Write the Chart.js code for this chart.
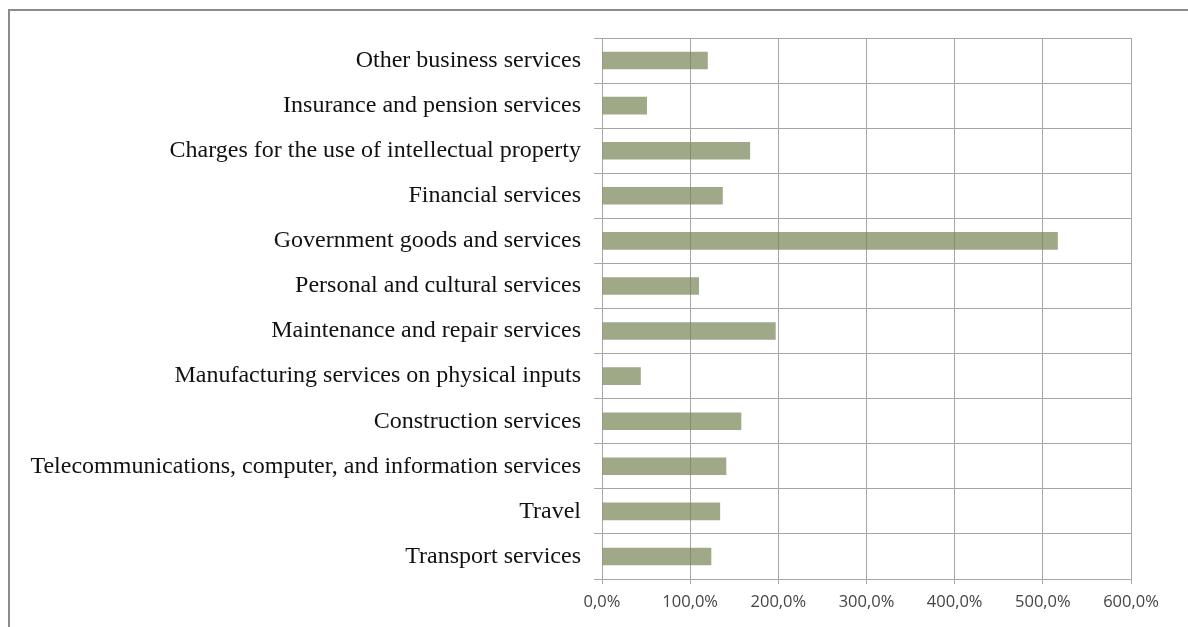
<!DOCTYPE html>
<html>
<head>
<meta charset="utf-8">
<script src="https://cdn.jsdelivr.net/npm/chart.js@4/dist/chart.umd.min.js"></script>
<style>
  html, body { margin: 0; padding: 0; background: #fff; }
  #wrap { position: relative; width: 1188px; height: 627px; overflow: hidden; }
  #frame { position: absolute; left: 8px; top: 9px; width: 1300px; height: 700px; border: 2px solid #8c8c8c; pointer-events: none; }
  canvas { position: absolute; left: 0; top: 0; }
</style>
</head>
<body>
<div id="wrap">
  <canvas id="chart" width="1188" height="627"></canvas>
  <div id="frame"></div>
</div>
<script>
// categories, top to bottom
const categories = [
  "Other business services",
  "Insurance and pension services",
  "Charges for the use of intellectual property",
  "Financial services",
  "Government goods and services",
  "Personal and cultural services",
  "Maintenance and repair services",
  "Manufacturing services on physical inputs",
  "Construction services",
  "Telecommunications, computer, and information services",
  "Travel",
  "Transport services",
];

// values in percent
const values = [120, 51, 168, 137, 517, 110, 197, 44, 158, 141, 134, 124];

const xTicks = [0, 100, 200, 300, 400, 500, 600];

const fmt = (v) => v.toFixed(1).replace(".", ",") + "%";

const ctx = document.getElementById("chart").getContext("2d");
new Chart(ctx, {
  type: "bar",
  data: {
    labels: categories,
    datasets: [
      {
        data: values,
        backgroundColor: "rgba(118, 133, 84, 0.7)",
        borderWidth: 0,
        barPercentage: 0.39,
        categoryPercentage: 1,
      },
    ],
  },
  options: {
    indexAxis: "y",
    responsive: false,
    animation: false,
    devicePixelRatio: 1,
    layout: { padding: { top: 38, right: 57, left: 0, bottom: 0 } },
    plugins: {
      legend: { display: false },
      tooltip: { enabled: false },
    },
    scales: {
      x: {
        min: 0,
        max: 600,
        afterBuildTicks: (scale) => {
          scale.ticks = xTicks.map((v) => ({ value: v }));
        },
        afterFit: (scale) => {
          scale.height = 48;
        },
        grid: { color: "#a6a6a6", lineWidth: 1, tickLength: 5 },
        border: { color: "#a6a6a6" },
        ticks: {
          callback: (v) => fmt(v),
          color: "#444",
          font: { family: "Open Sans", size: 16.5 },
          padding: 8,
          maxRotation: 0,
        },
      },
      y: {
        afterFit: (scale) => {
          scale.width = 602;
        },
        grid: { color: "#a6a6a6", lineWidth: 1, tickLength: 8, offset: true },
        border: { color: "#a6a6a6" },
        ticks: {
          color: "#111",
          font: { family: "Liberation Serif", size: 24 },
          padding: 13,
          autoSkip: false,
        },
      },
    },
  },
});
</script>
</body>
</html>
